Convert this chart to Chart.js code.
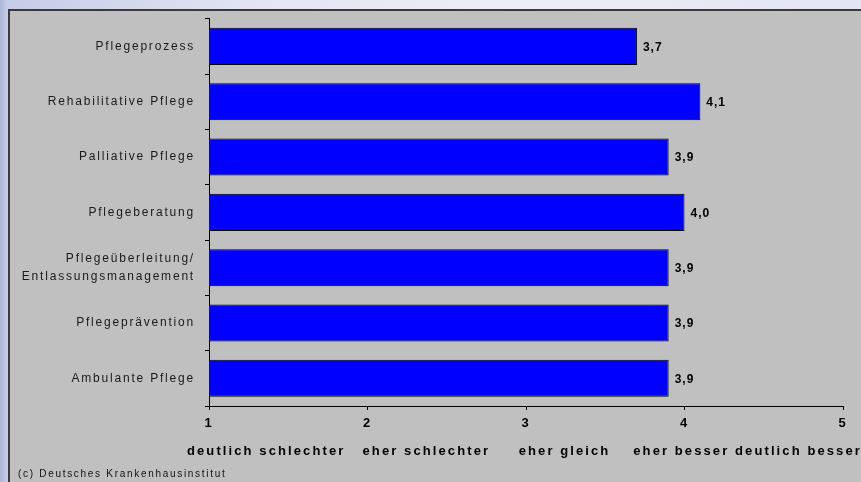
<!DOCTYPE html>
<html>
<head>
<meta charset="utf-8">
<script src="https://cdn.jsdelivr.net/npm/chart.js@4.4.0/dist/chart.umd.min.js"></script>
<style>
  html, body { margin: 0; padding: 0; }
  body {
    width: 861px; height: 482px; overflow: hidden; position: relative;
    background: linear-gradient(to right, #a9b6d6 0px, #c4cce8 7px, #e3e5f3 30%, #eceef7 60%, #e2e5f3 100%);
  }
  #panel {
    position: absolute; left: 8px; top: 9px; width: 870px; height: 480px;
    background: #c0c0c0; border-left: 2px solid #3a3a3a; border-top: 2px solid #3a3a3a;
  }
  #wrap { position: absolute; left: 0; top: 0; width: 861px; height: 482px; }
</style>
</head>
<body>
<div id="panel"></div>
<div id="wrap"><canvas id="chart" width="861" height="482"></canvas></div>
<script>
const categories = [
    "Pflegeprozess",
    "Rehabilitative Pflege",
    "Palliative Pflege",
    "Pflegeberatung",
    ["Pflegeüberleitung/", "Entlassungsmanagement"],
    "Pflegeprävention",
    "Ambulante Pflege"
];
const values = [3.7, 4.1, 3.9, 4.0, 3.9, 3.9, 3.9];
const tickValues = [1, 2, 3, 4, 5];
// the scale texts sit in one text line under the numbers
const scaleLine = "deutlich schlechter   eher schlechter     eher gleich    eher besser deutlich besser";
const sourceNote = "(c) Deutsches Krankenhausinstitut";

const FONT = "Arial, 'Liberation Sans', sans-serif";

const spacing = {
    id: 'spacing',
    beforeDraw(chart) {
        chart.ctx.letterSpacing = '1.8px';
    }
};

const extraText = {
    id: 'extraText',
    afterDraw(chart) {
        const ctx = chart.ctx;
        const x = chart.scales.x;
        const y = chart.scales.y;
        ctx.save();
        ctx.fillStyle = '#000';
        // value labels
        ctx.font = 'bold 12px ' + FONT;
        ctx.letterSpacing = '1px';
        ctx.textAlign = 'left';
        ctx.textBaseline = 'middle';
        values.forEach((v, i) => {
            ctx.fillText(v.toFixed(1).replace('.', ','), x.getPixelForValue(v) + 6, y.getPixelForValue(i) + 1);
        });
        // scale texts
        ctx.font = 'bold 13px ' + FONT;
        ctx.letterSpacing = '2.1px';
        ctx.fillText(scaleLine, 187, 451);
        // source
        ctx.font = '10px ' + FONT;
        ctx.letterSpacing = '1.7px';
        ctx.fillStyle = '#111';
        ctx.fillText(sourceNote, 18, 474);
        ctx.restore();
    }
};

new Chart(document.getElementById('chart'), {
    type: 'bar',
    data: {
        labels: categories,
        datasets: [{
            data: values,
            backgroundColor: '#0000ff',
            borderColor: '#000000',
            borderWidth: 1,
            barPercentage: 0.67,
            categoryPercentage: 1
        }]
    },
    options: {
        indexAxis: 'y',
        responsive: false,
        animation: false,
        layout: { padding: { top: 18, right: 18, bottom: 0, left: 0 } },
        plugins: { legend: { display: false }, tooltip: { enabled: false } },
        scales: {
            x: {
                min: 1,
                max: 5,
                afterFit(scale) { scale.height = 76; },
                ticks: {
                    stepSize: 1,
                    color: '#000',
                    font: { family: FONT, size: 13, weight: 'bold' },
                    padding: 6
                },
                grid: { drawOnChartArea: false, color: '#000', tickLength: 4 },
                border: { color: '#000', width: 1 }
            },
            y: {
                afterFit(scale) { scale.width = 209; },
                ticks: {
                    color: '#1a1a1a',
                    font: { family: FONT, size: 12, lineHeight: 1.45 },
                    padding: 10
                },
                grid: { offset: true, drawOnChartArea: false, color: '#000', tickLength: 4 },
                border: { color: '#000', width: 1 }
            }
        }
    },
    plugins: [spacing, extraText]
});
</script>
</body>
</html>
